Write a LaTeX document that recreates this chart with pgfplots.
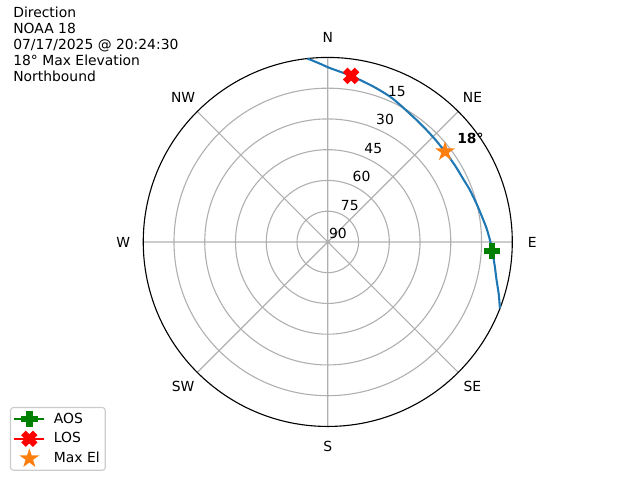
\documentclass[border=0pt]{standalone}
\usepackage{fontspec}
\setmainfont{DejaVu Sans}
\usepackage{pgfplots}
\pgfplotsset{compat=1.18}
\usepgfplotslibrary{polar}
\definecolor{cblue}{HTML}{1F77B4}
\definecolor{corange}{HTML}{FF7F0E}
\definecolor{cgreen}{HTML}{008000}
\definecolor{cred}{HTML}{FF0000}
\pgfplotsset{
  linelegend/.style={legend image code/.code={\path[draw=none,fill=none] (0pt,0pt) -- (26.5pt,0pt);\draw[mark repeat=2,mark phase=2,##1] plot coordinates {(0pt,0pt) (10.8pt,0pt) (21.6pt,0pt)};}},
  marklegend/.style={legend image code/.code={\path[draw=none,fill=none] (0pt,0pt) -- (26.5pt,0pt);\draw[##1] plot coordinates {(10.8pt,0pt)};}},
}
\pgfdeclareplotmark{Pfill}{%
  \pgfmathsetlengthmacro{\mL}{\pgfplotmarksize}%
  \pgfmathsetlengthmacro{\mW}{\pgfplotmarksize/3}%
  \pgfpathmoveto{\pgfpoint{-\mW}{\mL}}%
  \pgfpathlineto{\pgfpoint{\mW}{\mL}}%
  \pgfpathlineto{\pgfpoint{\mW}{\mW}}%
  \pgfpathlineto{\pgfpoint{\mL}{\mW}}%
  \pgfpathlineto{\pgfpoint{\mL}{-\mW}}%
  \pgfpathlineto{\pgfpoint{\mW}{-\mW}}%
  \pgfpathlineto{\pgfpoint{\mW}{-\mL}}%
  \pgfpathlineto{\pgfpoint{-\mW}{-\mL}}%
  \pgfpathlineto{\pgfpoint{-\mW}{-\mW}}%
  \pgfpathlineto{\pgfpoint{-\mL}{-\mW}}%
  \pgfpathlineto{\pgfpoint{-\mL}{\mW}}%
  \pgfpathlineto{\pgfpoint{-\mW}{\mW}}%
  \pgfpathclose
  \pgfusepathqfillstroke}
\pgfdeclareplotmark{Xfill}{%
  \pgftransformrotate{45}%
  \pgfuseplotmark{Pfill}}
\pgfdeclareplotmark{Starfill}{%
  \pgfpathmoveto{\pgfpointpolar{90}{\pgfplotmarksize}}%
  \pgfpathlineto{\pgfpointpolar{126}{0.382\pgfplotmarksize}}%
  \pgfpathlineto{\pgfpointpolar{162}{\pgfplotmarksize}}%
  \pgfpathlineto{\pgfpointpolar{198}{0.382\pgfplotmarksize}}%
  \pgfpathlineto{\pgfpointpolar{234}{\pgfplotmarksize}}%
  \pgfpathlineto{\pgfpointpolar{270}{0.382\pgfplotmarksize}}%
  \pgfpathlineto{\pgfpointpolar{306}{\pgfplotmarksize}}%
  \pgfpathlineto{\pgfpointpolar{342}{0.382\pgfplotmarksize}}%
  \pgfpathlineto{\pgfpointpolar{18}{\pgfplotmarksize}}%
  \pgfpathlineto{\pgfpointpolar{54}{0.382\pgfplotmarksize}}%
  \pgfpathclose
  \pgfusepathqfillstroke}
\begin{document}
\begin{tikzpicture}
\path[use as bounding box] (0,0) rectangle (460.8pt,345.6pt);
\begin{polaraxis}[
  at={(236.0pt,171.4pt)}, anchor=center,
  scale only axis, width=265.7pt, height=265.7pt,
  xmin=0, xmax=360, ymin=0, ymax=90,
  xtick={0,45,...,315}, ytick={15,30,45,60,75},
  xticklabels={}, yticklabels={},
  grid=major, major grid style={color=black!31, line width=0.8pt},
  separate axis lines,
  x axis line style={line width=0.8pt, black},
  y axis line style={draw=none},
  major tick length=0pt,
  clip=false,
  font=\fontsize{10}{12}\selectfont,
  azel/.style={x filter/.expression={90-x}, y filter/.expression={90-y}},
  legend style={at={(-0.3612,-0.1201)}, anchor=south west, draw=black!20,
    line width=0.8pt, rounded corners=2pt, fill=white,
    font=\fontsize{10}{12}\selectfont, row sep=1.3pt, inner xsep=2pt, inner ysep=1.8pt},
  legend cell align=left,
  linelegend,
]
\addplot[color=cblue, line width=1.5pt, smooth, azel, forget plot] coordinates {
(111.1,0.0) (107,2.8) (102.7,5.6) (98,7.8) (93.1,9.7) (89.3,10.9) (85,12.3)
(81.9,13.4) (76,15.0) (69.9,16.2) (65.4,17.1) (59,17.6) (52.4,17.8) (45,17.5)
(37.8,16.7) (32,15.6) (27.8,14.4) (23.2,12.9) (17,11.2) (11.2,9.4) (8.0,8.2)
(4,6.7) (0.4,5.0) (-3,2.6) (-6.3,0.0)
};
\addplot[color=cgreen, line width=1.5pt, mark=Pfill, mark size=5.5pt, mark options={line width=1pt, fill=cgreen}, azel] coordinates {(93.1,9.7)};
\addlegendentry{AOS}
\addplot[color=cred, line width=1.5pt, mark=Xfill, mark size=5.5pt, mark options={line width=1pt, fill=cred}, azel] coordinates {(8.0,8.2)};
\addlegendentry{LOS}
\addplot[color=corange, only marks, mark=Starfill, mark size=5.8pt, mark options={line width=1pt, fill=corange}, azel, marklegend] coordinates {(52.4,17.8)};
\addlegendentry{Max El}
% angular labels
\node[anchor=center] at (axis cs:90,99.8) {N};
\node[anchor=center] at (axis cs:45,99.8) {NE};
\node[anchor=center] at (axis cs:0,99.8) {E};
\node[anchor=center] at (axis cs:315,99.8) {SE};
\node[anchor=center] at (axis cs:270,99.8) {S};
\node[anchor=center] at (axis cs:225,99.8) {SW};
\node[anchor=center] at (axis cs:180,99.8) {W};
\node[anchor=center] at (axis cs:135,99.8) {NW};
% radial labels
\node[anchor=south west, inner sep=0pt, xshift=0.8pt, yshift=2.2pt] at (axis cs:67.5,0) {90};
\node[anchor=south west, inner sep=0pt, xshift=0.8pt, yshift=2.2pt] at (axis cs:67.5,15) {75};
\node[anchor=south west, inner sep=0pt, xshift=0.8pt, yshift=2.2pt] at (axis cs:67.5,30) {60};
\node[anchor=south west, inner sep=0pt, xshift=0.8pt, yshift=2.2pt] at (axis cs:67.5,45) {45};
\node[anchor=south west, inner sep=0pt, xshift=0.8pt, yshift=2.2pt] at (axis cs:67.5,60) {30};
\node[anchor=south west, inner sep=0pt, xshift=0.8pt, yshift=2.2pt] at (axis cs:67.5,75) {15};
\node[anchor=base west, inner sep=0pt, xshift=8.6pt, yshift=6pt] at (axis cs:37.6,72.2) {\textbf{18°}};
\end{polaraxis}
\begin{scope}[every node/.style={anchor=base west, inner sep=0pt, font=\fontsize{10}{12}\selectfont}]
\node at (9.4pt,333.14pt) {Direction};
\node at (9.4pt,321.55pt) {NOAA 18};
\node at (9.4pt,309.96pt) {07/17/2025 @ 20:24:30};
\node at (9.4pt,298.37pt) {18° Max Elevation};
\node at (9.4pt,286.78pt) {Northbound};
\end{scope}
\end{tikzpicture}
\end{document}
